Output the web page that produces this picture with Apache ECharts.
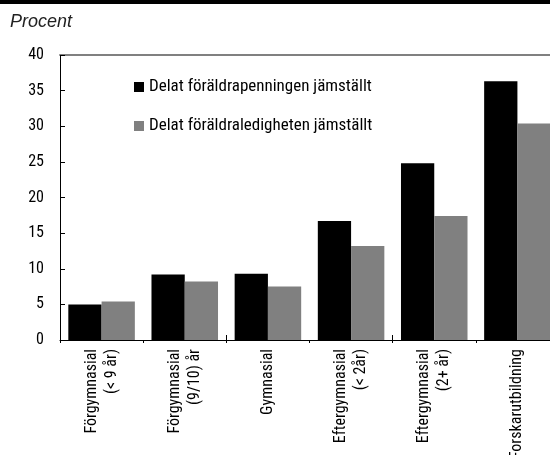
<!DOCTYPE html>
<html><head><meta charset="utf-8">
<script src="https://cdn.jsdelivr.net/npm/echarts@6/dist/echarts.min.js"></script>
<style>html,body{margin:0;padding:0;background:#fff}#c{width:550px;height:455px}</style>
</head><body><div id="c"></div>
<script>
var categories = ['Förgymnasial\n(< 9 år)', 'Förgymnasial\n(9/10) år', 'Gymnasial', 'Eftergymnasial\n(< 2år)', 'Eftergymnasial\n(2+ år)', 'Forskarutbildning'];
var seriesNames = ['Delat föräldrapenningen jämställt', 'Delat föräldraledigheten jämställt'];
var foraldrapenning = [5.0, 9.2, 9.3, 16.7, 24.8, 36.3];
var foraldraledighet = [5.4, 8.2, 7.5, 13.2, 17.4, 30.4];
var yTicks = [0, 5, 10, 15, 20, 25, 30, 35, 40];

var font = '"Roboto Condensed", "DejaVu Sans Condensed", sans-serif';
var chart = echarts.init(document.getElementById('c'));
chart.setOption({
  animation: false,
  textStyle: {fontFamily: font},
  graphic: [
    {type: 'rect', shape: {x: 0, y: 0, width: 550, height: 4}, style: {fill: '#000'}},
    {type: 'text', left: 10, top: 13, style: {text: 'Procent', font: 'italic 18px "Liberation Sans", Arial, sans-serif', fill: '#222'}}
  ],
  legend: {
    orient: 'vertical', left: 129, top: 72, itemGap: 19, itemWidth: 10, itemHeight: 10,
    icon: 'rect', textStyle: {fontFamily: font, fontSize: 17, lineHeight: 20, color: '#000'},
    data: seriesNames
  },
  grid: {left: 60, top: 55, right: -9, bottom: 115, outerBoundsMode: 'none', containLabel: false},
  xAxis: [{
    type: 'category', data: categories,
    axisLine: {lineStyle: {color: '#000', width: 1}},
    axisTick: {show: true, length: 3, lineStyle: {color: '#000'}},
    axisLabel: {rotate: 90, interval: 0, fontFamily: font, fontSize: 16, color: '#000', lineHeight: 20, margin: 9}
  }, {
    type: 'category', data: categories, position: 'top',
    axisLine: {lineStyle: {color: '#808080', width: 2}},
    axisTick: {show: false}, axisLabel: {show: false}
  }, {
    type: 'category', data: categories, position: 'bottom', offset: 0,
    axisLine: {show: false},
    axisTick: {show: true, inside: true, length: 5, lineStyle: {color: '#000'}},
    axisLabel: {show: false}
  }],
  yAxis: {
    type: 'value', min: 0, max: 40, interval: 5,
    axisLine: {show: true, lineStyle: {color: '#000'}},
    axisTick: {show: true, inside: true, length: 5, lineStyle: {color: '#000'}},
    splitLine: {show: false},
    axisLabel: {fontFamily: font, fontSize: 16, color: '#000', margin: 16,
      formatter: function (v) { return yTicks.indexOf(v) >= 0 ? String(v) : ''; }}
  },
  series: [
    {name: seriesNames[0], type: 'bar', data: foraldrapenning, itemStyle: {color: '#000'}, barGap: '0%', barCategoryGap: '20%'},
    {name: seriesNames[1], type: 'bar', data: foraldraledighet, itemStyle: {color: '#808080'}, barGap: '0%', barCategoryGap: '20%'}
  ]
});
</script></body></html>
